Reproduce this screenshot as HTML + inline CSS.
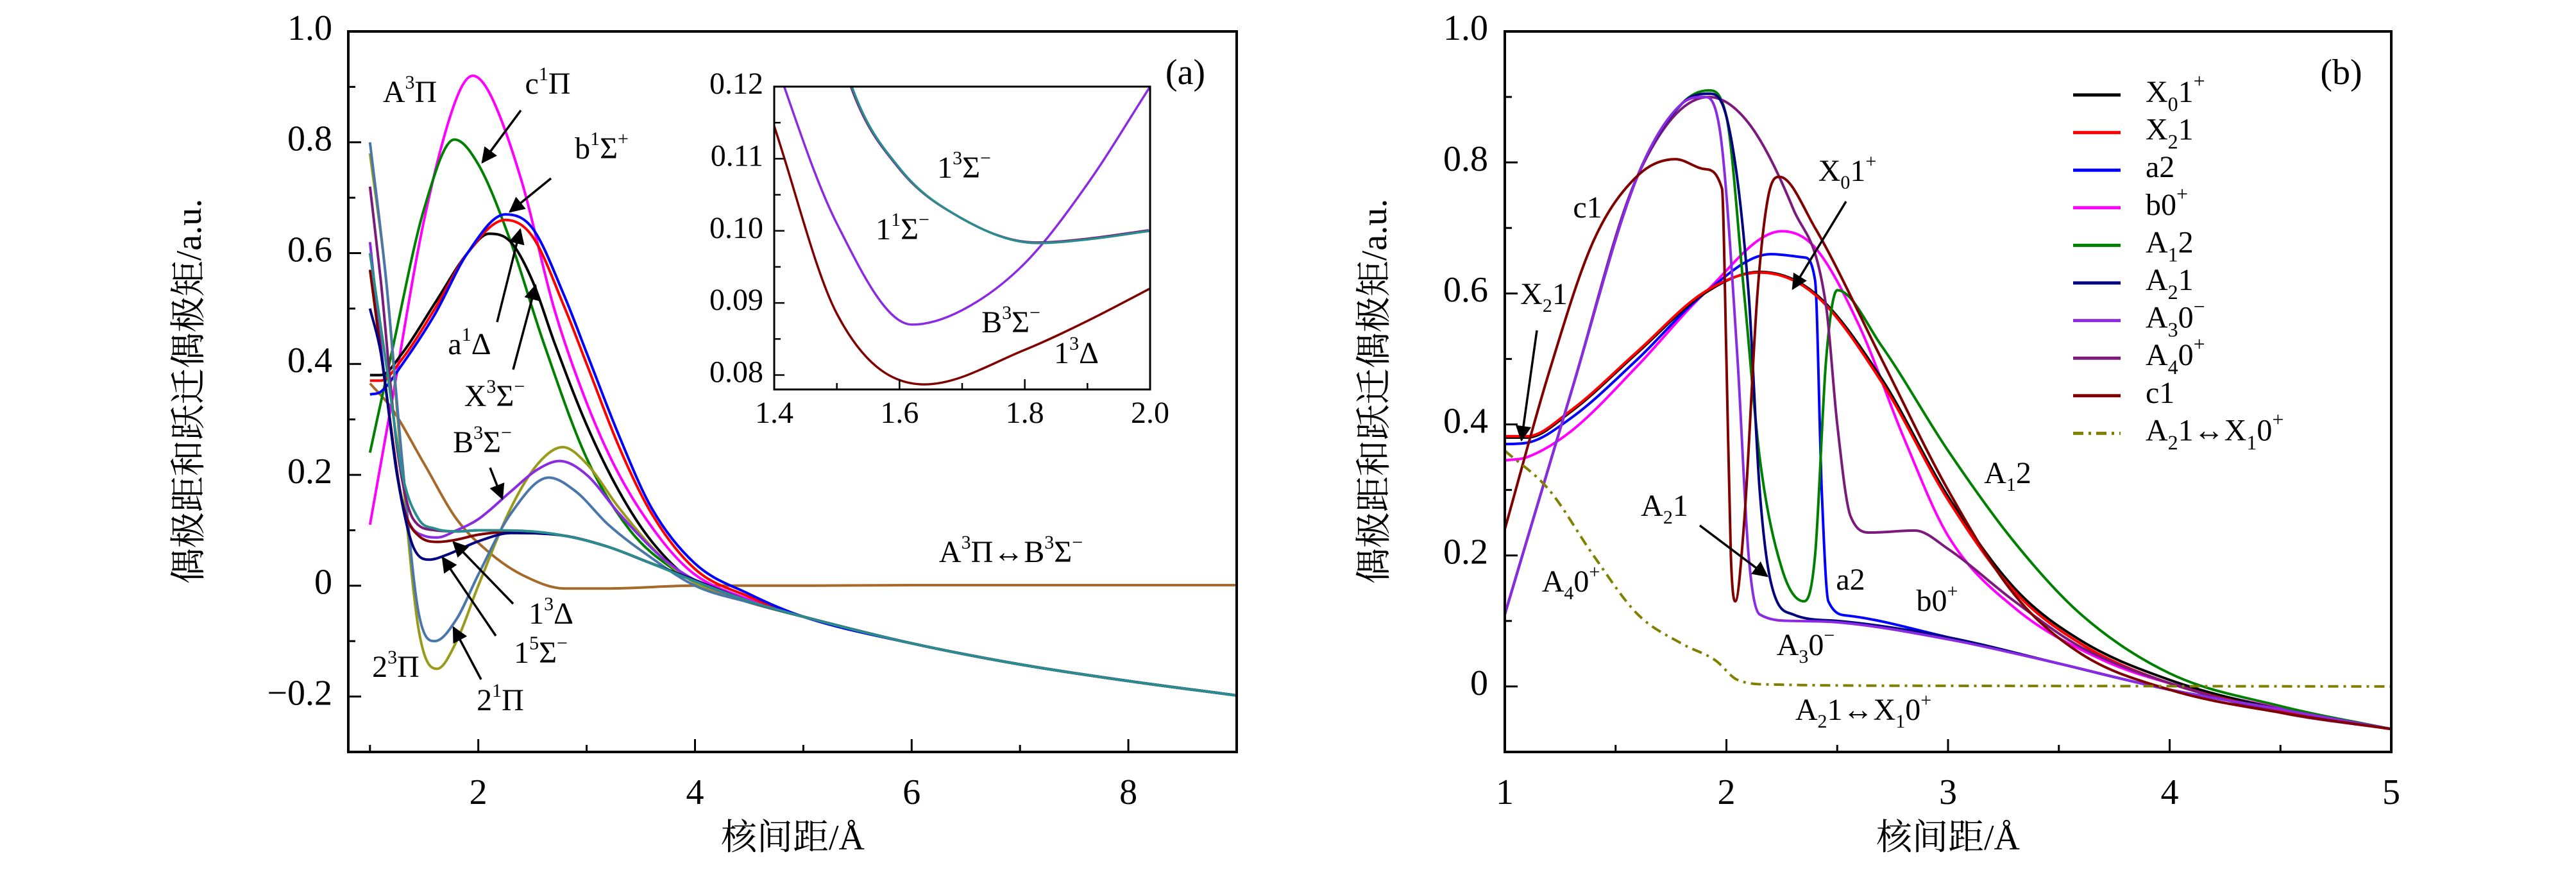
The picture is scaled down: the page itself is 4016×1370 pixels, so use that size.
<!DOCTYPE html>
<html><head><meta charset="utf-8"><style>
html,body{margin:0;padding:0;background:#fff;width:4016px;height:1370px;overflow:hidden}
svg{display:block}
text{font-family:"Liberation Serif","Noto Serif CJK SC",serif;fill:#000}
.cjk{font-family:"Liberation Serif","Noto Serif CJK SC","Noto Sans CJK SC",serif}
</style></head><body>
<svg id="chart" width="4016" height="1370" viewBox="0 0 4016 1370" xmlns="http://www.w3.org/2000/svg">
<defs><marker id="ah" viewBox="0 0 10 10" refX="9" refY="5" markerWidth="7" markerHeight="7" orient="auto-start-reverse"><path d="M0,0 L10,5 L0,10 z" fill="#000"/></marker></defs>
</svg>
<script>
// ---------- Panel (a) data ----------
const aTail = [[5,-0.056],[6,-0.104],[7,-0.142],[8,-0.172],[9,-0.198]];
const aBlack = [[1.0,0.38],[1.1,0.38],[1.3,0.42],[1.6,0.51],[1.9,0.6],[2.1,0.635],[2.3,0.62],[2.5,0.55],[2.7,0.44],[3.0,0.29],[3.3,0.17],[3.6,0.08],[4.0,0.005],[4.5,-0.03]];
const aRed = [[1.0,0.37],[1.1,0.37],[1.3,0.41],[1.6,0.5],[1.9,0.6],[2.25,0.66],[2.5,0.63],[2.8,0.5],[3.0,0.4],[3.3,0.25],[3.6,0.13],[4.0,0.03],[4.5,-0.02]];
const aBlue = [[1.0,0.345],[1.1,0.35],[1.3,0.4],[1.6,0.49],[1.9,0.6],[2.25,0.67],[2.5,0.645],[2.8,0.52],[3.0,0.42],[3.3,0.27],[3.6,0.14],[4.0,0.04],[4.5,-0.015]];
const aMagenta = [[1.0,0.11],[1.2,0.33],[1.5,0.66],[1.8,0.88],[1.95,0.92],[2.1,0.89],[2.4,0.73],[2.7,0.5],[3.0,0.33],[3.3,0.2],[3.7,0.08],[4.0,0.02],[4.5,-0.025]];
const aGreen = [[1.0,0.24],[1.2,0.42],[1.5,0.68],[1.78,0.805],[2.0,0.76],[2.3,0.62],[2.6,0.44],[3.0,0.23],[3.4,0.1],[3.8,0.03],[4.2,-0.01],[4.6,-0.035]];
const aBrown = [[1.0,0.365],[1.2,0.32],[1.5,0.22],[1.8,0.12],[2.1,0.06],[2.4,0.02],[2.8,-0.005],[3.2,-0.005],[4,0],[5,0],[6,0.001],[9,0.001]];
const aOlive = [[1.0,0.78],[1.15,0.55],[1.3,0.2],[1.45,-0.08],[1.62,-0.15],[1.8,-0.1],[2.0,0.0],[2.3,0.14],[2.55,0.22],[2.78,0.25],[3.0,0.22],[3.3,0.14],[3.7,0.05],[4.0,0.005],[4.5,-0.03]];
const aSteel = [[1.0,0.8],[1.15,0.55],[1.3,0.22],[1.45,-0.05],[1.6,-0.1],[1.8,-0.06],[2.0,0.02],[2.3,0.13],[2.65,0.195],[2.9,0.17],[3.2,0.11],[3.6,0.05],[4.0,0.0],[4.5,-0.03]];
const aViolet = [[1.0,0.62],[1.15,0.35],[1.3,0.15],[1.5,0.09],[1.62,0.087],[1.8,0.1],[2.0,0.12],[2.3,0.17],[2.55,0.21],[2.75,0.225],[3.0,0.2],[3.3,0.13],[3.7,0.05],[4.0,0.01],[4.5,-0.028]];
const aPurple = [[1.0,0.72],[1.1,0.55],[1.25,0.25],[1.4,0.12],[1.6,0.1],[1.82,0.098],[2.0,0.1],[2.4,0.098],[2.8,0.09],[3.2,0.07],[3.6,0.04],[4.0,0.01],[4.5,-0.028]];
const aDarkRed = [[1.0,0.57],[1.15,0.35],[1.3,0.15],[1.45,0.09],[1.63,0.079],[1.8,0.083],[2.0,0.092],[2.3,0.097],[2.8,0.09],[3.2,0.07],[3.6,0.04],[4.0,0.01],[4.5,-0.028]];
const aNavy = [[1.0,0.5],[1.1,0.42],[1.25,0.2],[1.4,0.07],[1.55,0.047],[1.7,0.055],[2.0,0.08],[2.3,0.095],[2.8,0.09],[3.2,0.07],[3.6,0.04],[4.0,0.01],[4.5,-0.028]];
const aTeal = [[1.0,0.6],[1.15,0.4],[1.3,0.2],[1.45,0.12],[1.6,0.103],[1.82,0.098],[2.0,0.1],[2.4,0.099],[2.8,0.09],[3.2,0.07],[3.6,0.04],[4.0,0.008],[4.5,-0.028]];
const aXTicks = [2,4,6,8];
const aYTicks = [-0.2,0,0.2,0.4,0.6,0.8,1.0];
const aYTickLabels = ["\u22120.2","0","0.2","0.4","0.6","0.8","1.0"];
// inset
const inTeal = [[1.4,0.16],[1.5,0.128],[1.524,0.12],[1.6,0.1087],[1.7,0.1017],[1.82,0.0983],[1.9,0.0988],[2.0,0.1]];
const inViolet = [[1.38,0.13],[1.416,0.12],[1.5,0.101],[1.62,0.087],[1.7,0.089],[1.8,0.0955],[1.9,0.1065],[2.0,0.12]];
const inDarkRed = [[1.4,0.1145],[1.5,0.0885],[1.64,0.0787],[1.8,0.0835],[1.9,0.0875],[2.0,0.092]];
const inXTicks = [1.4,1.6,1.8,2.0];
const inXTickLabels = ["1.4","1.6","1.8","2.0"];
const inYTicks = [0.08,0.09,0.10,0.11,0.12];
const inYTickLabels = ["0.08","0.09","0.10","0.11","0.12"];
// ---------- Panel (b) data ----------
const bX0 = [[1.0,0.38],[1.1,0.38],[1.3,0.42],[1.6,0.51],[1.9,0.6],[2.15,0.633],[2.4,0.6],[2.7,0.47],[3.0,0.29],[3.3,0.15],[3.6,0.07],[4.0,0.01],[4.5,-0.035],[5,-0.065]];
const bX2 = [[1.0,0.382],[1.1,0.382],[1.3,0.422],[1.6,0.512],[1.9,0.602],[2.15,0.632],[2.4,0.598],[2.7,0.465],[3.0,0.285],[3.3,0.145],[3.6,0.065],[4.0,0.005],[4.5,-0.037],[5,-0.065]];
const bA2 = [[1.0,0.37],[1.1,0.372],[1.3,0.41],[1.6,0.5],[1.9,0.6],[2.2,0.66],[2.35,0.655],[2.4,0.62],[2.43,0.3],[2.46,0.13],[2.55,0.108],[3.0,0.075],[3.5,0.035],[4.0,-0.005],[4.5,-0.035],[5,-0.065]];
const bB0 = [[1.0,0.345],[1.1,0.35],[1.3,0.39],[1.6,0.49],[1.9,0.6],[2.25,0.695],[2.4,0.67],[2.6,0.55],[2.8,0.38],[3.0,0.23],[3.3,0.12],[3.7,0.04],[4.0,0.005],[4.5,-0.033],[5,-0.065]];
const bA12 = [[1.0,0.11],[1.3,0.45],[1.6,0.78],[1.8,0.89],[1.92,0.91],[2.0,0.87],[2.08,0.6],[2.15,0.35],[2.25,0.18],[2.35,0.13],[2.4,0.2],[2.45,0.5],[2.5,0.605],[2.7,0.52],[3.0,0.36],[3.3,0.22],[3.6,0.11],[4.0,0.02],[4.5,-0.03],[5,-0.065]];
const bA21 = [[1.0,0.11],[1.3,0.45],[1.6,0.78],[1.8,0.89],[1.92,0.905],[2.0,0.87],[2.1,0.6],[2.15,0.3],[2.2,0.16],[2.3,0.11],[2.5,0.1],[3.0,0.075],[3.5,0.035],[4.0,-0.005],[4.5,-0.035],[5,-0.065]];
const bA30 = [[1.0,0.11],[1.3,0.45],[1.6,0.78],[1.8,0.89],[1.9,0.9],[1.97,0.85],[2.05,0.5],[2.1,0.2],[2.15,0.11],[2.3,0.1],[2.5,0.098],[3.0,0.072],[3.5,0.035],[4.0,-0.005],[4.5,-0.035],[5,-0.065]];
const bA40 = [[1.0,0.11],[1.3,0.45],[1.6,0.78],[1.92,0.9],[2.1,0.86],[2.3,0.73],[2.45,0.58],[2.5,0.4],[2.56,0.26],[2.65,0.235],[2.85,0.238],[3.0,0.21],[3.3,0.13],[3.6,0.06],[4.0,0.005],[4.5,-0.04],[5,-0.065]];
const bC1 = [[1.0,0.24],[1.2,0.48],[1.4,0.68],[1.6,0.78],[1.77,0.805],[1.9,0.79],[1.98,0.76],[2.0,0.5],[2.02,0.2],[2.04,0.13],[2.08,0.25],[2.14,0.6],[2.19,0.75],[2.24,0.778],[2.4,0.7],[2.7,0.5],[3.0,0.3],[3.3,0.14],[3.6,0.05],[4.0,-0.005],[4.5,-0.04],[5,-0.065]];
const bTrans = [[1.0,0.36],[1.2,0.3],[1.4,0.2],[1.6,0.11],[1.8,0.065],[1.95,0.04],[2.05,0.01],[2.2,0.003],[3,0.001],[5,0]];
const bXTicks = [1,2,3,4,5];
const bYTicks = [0,0.2,0.4,0.6,0.8,1.0];
const bYTickLabels = ["0","0.2","0.4","0.6","0.8","1.0"];
const bLegendNames = ["X<tspan baseline-shift='sub' font-size='32'>0</tspan>1<tspan baseline-shift='super' font-size='32'>+</tspan>","X<tspan baseline-shift='sub' font-size='32'>2</tspan>1","a2","b0<tspan baseline-shift='super' font-size='32'>+</tspan>","A<tspan baseline-shift='sub' font-size='32'>1</tspan>2","A<tspan baseline-shift='sub' font-size='32'>2</tspan>1","A<tspan baseline-shift='sub' font-size='32'>3</tspan>0<tspan baseline-shift='super' font-size='32'>\u2212</tspan>","A<tspan baseline-shift='sub' font-size='32'>4</tspan>0<tspan baseline-shift='super' font-size='32'>+</tspan>","c1","A<tspan baseline-shift='sub' font-size='32'>2</tspan>1\u2194X<tspan baseline-shift='sub' font-size='32'>1</tspan>0<tspan baseline-shift='super' font-size='32'>+</tspan>"];

const NS='http://www.w3.org/2000/svg';
const svg=document.getElementById('chart');
function el(tag,attrs,parent){const e=document.createElementNS(NS,tag);for(const k in attrs)e.setAttribute(k,attrs[k]);(parent||svg).appendChild(e);return e;}
function scale(d0,d1,r0,r1){return v=>r0+(v-d0)/(d1-d0)*(r1-r0);}
function monoPath(pts,X,Y){
  const n=pts.length;const xs=pts.map(p=>X(p[0])),ys=pts.map(p=>Y(p[1]));
  if(n<3){return 'M'+xs.map((x,i)=>x.toFixed(1)+','+ys[i].toFixed(1)).join('L');}
  const d=[],m=new Array(n);
  for(let i=0;i<n-1;i++)d.push((ys[i+1]-ys[i])/(xs[i+1]-xs[i]));
  m[0]=d[0];m[n-1]=d[n-2];
  for(let i=1;i<n-1;i++){m[i]=(d[i-1]*d[i]<=0)?0:(d[i-1]+d[i])/2;}
  for(let i=0;i<n-1;i++){if(d[i]===0){m[i]=0;m[i+1]=0;continue;}const a=m[i]/d[i],b=m[i+1]/d[i],s=a*a+b*b;if(s>9){const t=3/Math.sqrt(s);m[i]=t*a*d[i];m[i+1]=t*b*d[i];}}
  let p='M'+xs[0].toFixed(1)+','+ys[0].toFixed(1);
  for(let i=0;i<n-1;i++){const h=(xs[i+1]-xs[i])/3;p+='C'+(xs[i]+h).toFixed(1)+','+(ys[i]+m[i]*h).toFixed(1)+' '+(xs[i+1]-h).toFixed(1)+','+(ys[i+1]-m[i+1]*h).toFixed(1)+' '+xs[i+1].toFixed(1)+','+ys[i+1].toFixed(1);}
  return p;
}
function txt(x,y,html,size,parent,anchor){const t=el('text',{x:x,y:y,'font-size':size||48,'text-anchor':anchor||'middle','dominant-baseline':'middle'},parent);t.innerHTML=html;return t;}
const sup=s=>"<tspan baseline-shift='super' font-size='30'>"+s+"</tspan>";
const sub=s=>"<tspan baseline-shift='sub' font-size='30'>"+s+"</tspan>";
function arrow(x1,y1,x2,y2,parent){return el('line',{x1:x1,y1:y1,x2:x2,y2:y2,stroke:'#000','stroke-width':3.5,'marker-end':'url(#ah)'},parent);}

// ---------- Panel (a) ----------
const AL=543, AR=1928, TOP=49, BOT=1172;
const gA=el('g',{});


const aX=scale(0.8,9.0,AL,AR), aY=scale(-0.3,1.0,BOT,TOP);
const cpA=el('clipPath',{id:'clipA'},gA);el('rect',{x:AL,y:TOP,width:AR-AL,height:BOT-TOP},cpA);
const aSeries=[[aBrown,'#a5692a','a-transition'],[aMagenta,'#ff00ff','a-magenta'],[aGreen,'#008000','a-c1pi'],[aBlack,'#000000','a-x3sigma'],[aRed,'#ff0000','a-a1delta'],[aBlue,'#0000ff','a-b1sigma'],[aOlive,'#9a9a1a','a-2-1pi'],[aSteel,'#4a76aa','a-2-3pi'],[aViolet,'#8a2be2','a-b3sigma'],[aPurple,'#7b1a7b','a-1-3sigma'],[aDarkRed,'#800000','a-1-3delta'],[aNavy,'#000080','a-1-5sigma'],[aTeal,'#2a8c8c','a-teal']];
const gAc=el('g',{'clip-path':'url(#clipA)'},gA);
aSeries.forEach(s=>{const pts=s[0]===aBrown?s[0]:s[0].concat(aTail);const p=el('path',{d:monoPath(pts,aX,aY),fill:'none',stroke:s[1],'stroke-width':4},gAc);

});
const axA=el('rect',{x:AL,y:TOP,width:AR-AL,height:BOT-TOP,fill:'none',stroke:'#000','stroke-width':4},gA);


for(let v=1;v<=9;v++){const x=aX(v);const major=aXTicks.includes(v);el('line',{x1:x,y1:BOT,x2:x,y2:BOT-(major?20:11),stroke:'#000','stroke-width':3},gA);}
aXTicks.forEach(v=>{const t=txt(aX(v),1240,String(v),56,gA);});
for(let k=-3;k<=10;k++){const v=k/10,y=aY(v);const major=k%2===0;el('line',{x1:AL,y1:y,x2:AL+(major?20:11),y2:y,stroke:'#000','stroke-width':3},gA);}
aYTicks.forEach((v,i)=>{const t=txt(518,aY(v),aYTickLabels[i],56,gA,'end');});
const ayt=txt(0,0,'偶极距和跃迁偶极矩/a.u.',56,gA);ayt.setAttribute('transform','translate(300,610) rotate(-90)');ayt.setAttribute('class','cjk');


const axt=txt(1236,1311,'核间距/Å',56,gA);axt.setAttribute('class','cjk');


const la=txt(1848,118,'(a)',56,gA);


const aLabels=[[639,148,'A'+sup('3')+'Π'],[854,135,'c'+sup('1')+'Π'],[938,236,'b'+sup('1')+'Σ'+sup('+')],[732,541,'a'+sup('1')+'Δ'],[771,622,'X'+sup('3')+'Σ'+sup('−')],[752,694,'B'+sup('3')+'Σ'+sup('−')],[1576,865,'A'+sup('3')+'Π↔B'+sup('3')+'Σ'+sup('−')],[859,961,'1'+sup('3')+'Δ'],[843,1022,'1'+sup('5')+'Σ'+sup('−')],[617,1044,'2'+sup('3')+'Π'],[780,1096,'2'+sup('1')+'Π']];
aLabels.forEach(l=>{const t=txt(l[0],l[1],l[2],48,gA);});
[[812,172,752,253],[859,278,795,330],[775,502,811,358],[800,576,835,445],[764,729,783,777],[800,941,707,845],[773,991,690,869],[750,1059,707,978]].forEach(a=>{const l=arrow(a[0],a[1],a[2],a[3],gA);});
// inset
const gI=el('g',{},gA);


const iX=scale(1.4,2.0,1207,1793), iY=scale(0.078,0.12,607,135);
el('rect',{x:1207,y:135,width:586,height:472,fill:'#fff',stroke:'none'},gI);
const cpI=el('clipPath',{id:'clipI'},gI);el('rect',{x:1207,y:135,width:586,height:472},cpI);
const gIc=el('g',{'clip-path':'url(#clipI)'},gI);
[[inDarkRed,'#800000','inset-1-3delta'],[inViolet,'#8a2be2','inset-violet'],[inTeal,'#7b1a7b','inset-purple'],[inTeal,'#2a8c8c','inset-teal']].forEach((s,i)=>{const p=el('path',{d:monoPath(s[0],iX,iY),fill:'none',stroke:s[1],'stroke-width':3.5,transform:i===2?'translate(-2,-1)':''},gIc);

});
el('rect',{x:1207,y:135,width:586,height:472,fill:'none',stroke:'#000','stroke-width':3},gI);
for(let k=0;k<=6;k++){const x=iX(1.4+k*0.1);el('line',{x1:x,y1:607,x2:x,y2:607-(k%2===0?16:10),stroke:'#000','stroke-width':2.5},gI);}
inXTicks.forEach((v,i)=>{const t=txt(iX(v),648,inXTickLabels[i],48,gI);});
for(let k=0;k<=8;k++){const y=iY(0.08+k*0.005);el('line',{x1:1207,y1:y,x2:1207+(k%2===0?16:10),y2:y,stroke:'#000','stroke-width':2.5},gI);}
inYTicks.forEach((v,i)=>{const t=txt(1190,iY(v),inYTickLabels[i],48,gI,'end');});
[[1503,266,'1'+sup('3')+'Σ'+sup('−')],[1407,362,'1'+sup('1')+'Σ'+sup('−')],[1576,507,'B'+sup('3')+'Σ'+sup('−')],[1678,555,'1'+sup('3')+'Δ']].forEach(l=>{const t=txt(l[0],l[1],l[2],48,gI);});

// ---------- Panel (b) ----------
const BL=2346, BR=3728;
const gB=el('g',{});


const bX=scale(1,5,BL,BR), bY=scale(-0.1,1.0,BOT,TOP);
const cpB=el('clipPath',{id:'clipB'},gB);el('rect',{x:BL,y:TOP,width:BR-BL,height:BOT-TOP},cpB);
const gBc=el('g',{'clip-path':'url(#clipB)'},gB);
const bColors=['#000000','#ff0000','#0000ff','#ff00ff','#008000','#000080','#8a2be2','#7b1a7b','#800000','#808000'];
const bSeries=[bX0,bX2,bA2,bB0,bA12,bA21,bA30,bA40,bC1,bTrans];
const bDrawOrder=[3,2,0,1,4,7,5,6,8,9];
bDrawOrder.forEach(i=>{const isT=i===9;const p=el('path',{d:monoPath(bSeries[i],bX,bY),fill:'none',stroke:bColors[i],'stroke-width':4,'stroke-dasharray':isT?'16,8,4,8':''},gBc);

});
const axB=el('rect',{x:BL,y:TOP,width:BR-BL,height:BOT-TOP,fill:'none',stroke:'#000','stroke-width':4},gB);


for(let k=2;k<=10;k++){const v=k/2,x=bX(v);const major=k%2===0;el('line',{x1:x,y1:BOT,x2:x,y2:BOT-(major?20:11),stroke:'#000','stroke-width':3},gB);}
bXTicks.forEach(v=>{const t=txt(bX(v),1240,String(v),56,gB);});
for(let k=-1;k<=10;k++){const y=bY(k/10);const major=k%2===0;el('line',{x1:BL,y1:y,x2:BL+(major?20:11),y2:y,stroke:'#000','stroke-width':3},gB);}
bYTicks.forEach((v,i)=>{const t=txt(BL-26,bY(v),bYTickLabels[i],56,gB,'end');});
const byt=txt(0,0,'偶极距和跃迁偶极矩/a.u.',56,gB);byt.setAttribute('transform','translate(2148,610) rotate(-90)');byt.setAttribute('class','cjk');


const bxt=txt(3037,1311,'核间距/Å',56,gB);bxt.setAttribute('class','cjk');


const lb=txt(3650,118,'(b)',56,gB);


const gL=el('g',{},gB);


bLegendNames.forEach((n,i)=>{const y=148+i*58.6;const g=el('g',{},gL);


el('line',{x1:3232,y1:y,x2:3306,y2:y,stroke:bColors[i],'stroke-width':5,'stroke-dasharray':i===9?'16,8,4,8':''},g);
txt(3345,y,n,48,g,'start');});
const bLabels=[[2880,271,'X'+sub('0')+'1'+sup('+')],[2475,328,'c1'],[2407,463,'X'+sub('2')+'1'],[3130,742,'A'+sub('1')+'2'],[2595,793,'A'+sub('2')+'1'],[2885,908,'a2'],[3020,941,'b0'+sup('+')],[2449,911,'A'+sub('4')+'0'+sup('+')],[2815,1010,'A'+sub('3')+'0'+sup('−')],[2905,1111,'A'+sub('2')+'1↔X'+sub('1')+'0'+sup('+')]];
bLabels.forEach(l=>{const t=txt(l[0],l[1],l[2],48,gB);});
[[2878,314,2795,450],[2396,515,2372,686],[2650,819,2755,898]].forEach(a=>{const l=arrow(a[0],a[1],a[2],a[3],gB);});
</script>
</body></html>
